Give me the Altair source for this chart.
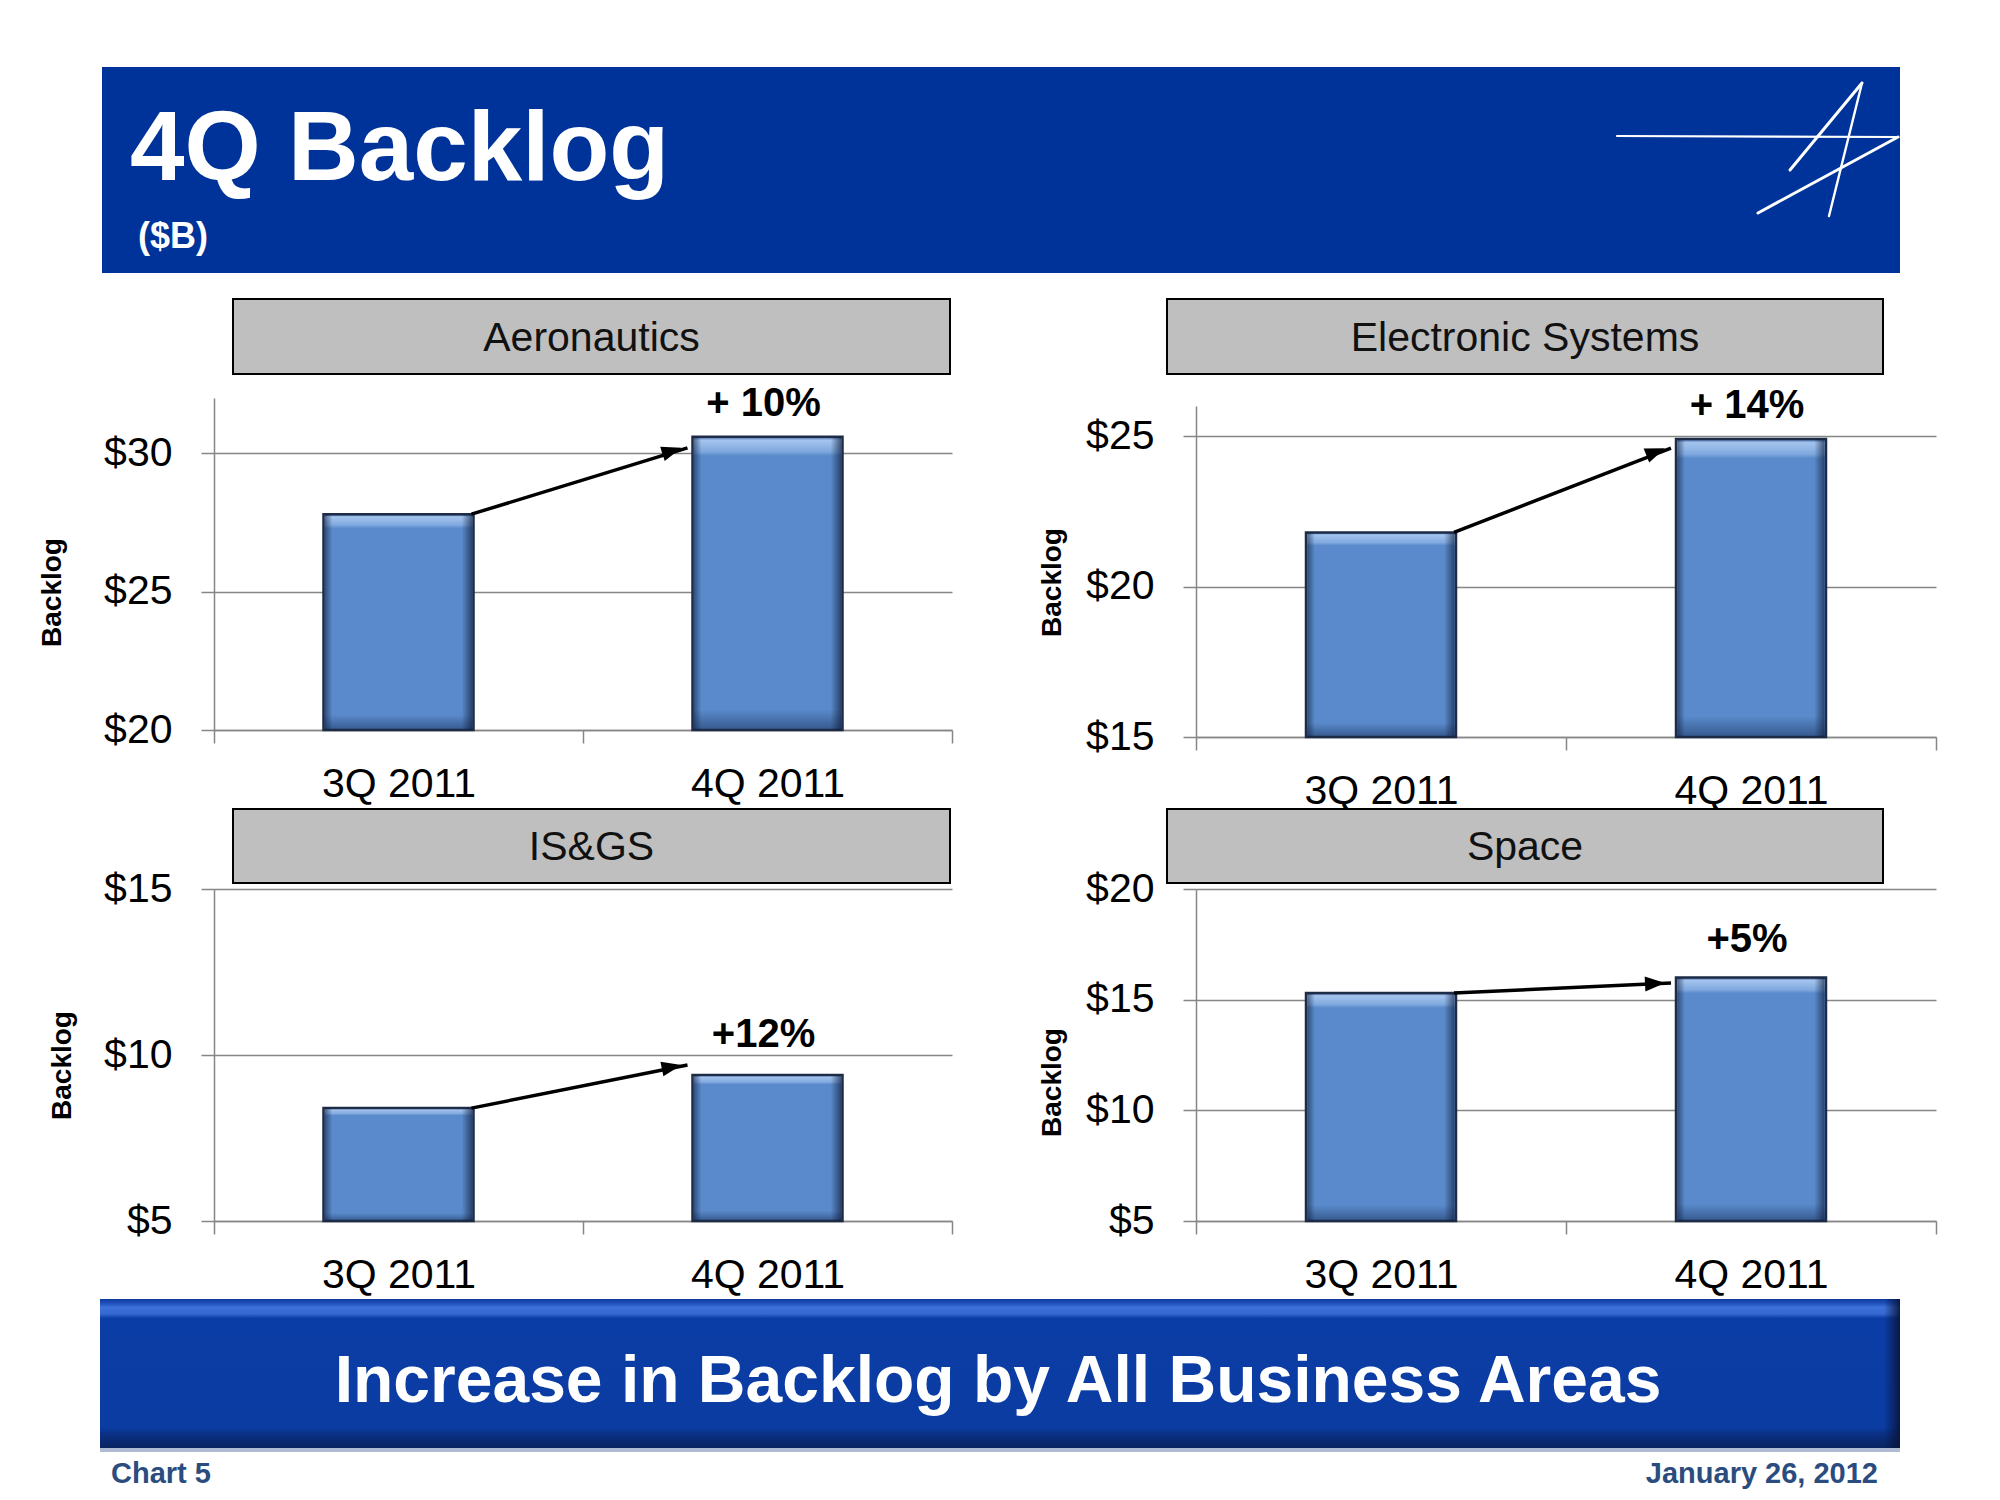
import math
import altair as alt
import pandas as pd

# ---------------- data ----------------
segments = ["Aeronautics", "Electronic Systems", "IS&GS", "Space"]
quarters = ["3Q 2011", "4Q 2011"]
backlog_3q = [27.8, 21.8, 8.4, 15.3]
backlog_4q = [30.6, 24.9, 9.4, 16.0]
change_text = ["+ 10%", "+ 14%", "+12%", "+5%"]
change_label_value = [31.8, 26.0, 10.6, 17.7]
arrow_end_value = [30.2, 24.6, 9.7, 15.75]
axis_min = [20, 15, 5, 5]
axis_max = [32, 26, 15, 20]
axis_ticks = [[20, 25, 30], [15, 20, 25], [5, 10, 15], [5, 10, 15, 20]]

title_text = "4Q Backlog"
subtitle_text = "($B)"
banner_text = "Increase in Backlog by All Business Areas"
footer_left = "Chart 5"
footer_right = "January 26, 2012"
y_title = "Backlog"

# ---------------- layout / style ----------------
W, H = 2000, 1500
FONT = "Liberation Sans"
GRID = "#868686"
BAR_W = 150
ARROW_START_OFF = 73
ARROW_END_OFF = -86

layout = [
    dict(x=(214, 952), y=(730, 398), header=(233, 950, 299, 374), title=(52, 592)),
    dict(x=(1196, 1936), y=(737, 406), header=(1167, 1883, 299, 374), title=(1052, 582)),
    dict(x=(214, 952), y=(1221, 889), header=(233, 950, 809, 883), title=(62, 1065)),
    dict(x=(1196, 1936), y=(1221, 889), header=(1167, 1883, 809, 883), title=(1052, 1082)),
]

one = alt.InlineData(values=[{"k": 0}])

bar_vgrad = alt.Gradient(
    gradient="linear", x1=0, x2=0, y1=0, y2=1,
    stops=[
        alt.GradientStop(offset=0.0, color="#3B64A0"),
        alt.GradientStop(offset=0.012, color="#A4C4EE"),
        alt.GradientStop(offset=0.05, color="#80A9DF"),
        alt.GradientStop(offset=0.065, color="#5A8ACB"),
        alt.GradientStop(offset=0.93, color="#5A8ACB"),
        alt.GradientStop(offset=1.0, color="#35598E"),
    ],
)
bar_hgrad = alt.Gradient(
    gradient="linear", x1=0, x2=1, y1=0, y2=0,
    stops=[
        alt.GradientStop(offset=0.0, color="rgba(15,30,60,0.55)"),
        alt.GradientStop(offset=0.05, color="rgba(15,30,60,0.0)"),
        alt.GradientStop(offset=0.93, color="rgba(15,30,60,0.0)"),
        alt.GradientStop(offset=1.0, color="rgba(15,30,60,0.65)"),
    ],
)


def panel(i):
    """Returns a flat list of layers; every layer uses the same explicit
    domain and range, so independent scales map identically."""
    L = layout[i]
    x0, x1 = L["x"]
    yb, yt = L["y"]
    bars = pd.DataFrame({
        "quarter": quarters,
        "value": [backlog_3q[i], backlog_4q[i]],
        "base": [axis_min[i], axis_min[i]],
    })

    def xs():
        return alt.Scale(domain=quarters, range=[x0, x1], paddingInner=0, paddingOuter=0)

    def ys():
        return alt.Scale(domain=[axis_min[i], axis_max[i]], range=[yb, yt], nice=False, zero=False)

    xax = alt.Axis(
        orient="bottom", offset=-(H - yb), tickBand="extent", tickSize=13,
        labelPadding=21, labelFontSize=41, labelFont=FONT, labelColor="#000",
        labelAngle=0, domainColor=GRID, tickColor=GRID, domainWidth=1.5,
        tickWidth=1.5, grid=False, title=None,
    )
    yax = alt.Axis(
        orient="left", offset=-x0, values=axis_ticks[i],
        labelExpr="'$' + datum.label", tickSize=13, labelPadding=29,
        labelFontSize=41, labelFont=FONT, labelColor="#000",
        domainColor=GRID, tickColor=GRID, domainWidth=1.5, tickWidth=1.5,
        grid=True, gridColor=GRID, gridWidth=1.5,
        title=y_title, titleX=L["title"][0] - x0, titleY=L["title"][1],
        titleAngle=270, titleBaseline="middle", titleAlign="center",
        titleFontSize=28, titleFont=FONT, titleFontWeight="bold", titleColor="#000",
    )

    bar = alt.Chart(bars).mark_bar(
        width=BAR_W, fill=bar_vgrad, stroke="#1E2C48", strokeWidth=2.5
    ).encode(
        x=alt.X("quarter:N", scale=xs(), axis=xax, sort=quarters),
        y=alt.Y("value:Q", scale=ys(), axis=yax), y2="base:Q")
    shade = alt.Chart(bars).mark_bar(width=BAR_W - 3, fill=bar_hgrad).encode(
        x=alt.X("quarter:N", scale=xs(), axis=None),
        y=alt.Y("value:Q", scale=ys(), axis=None), y2="base:Q")

    arrow_df = pd.DataFrame({
        "q0": [quarters[0]], "q1": [quarters[1]],
        "v0": [backlog_3q[i]], "v1": [arrow_end_value[i]],
    })
    step = (x1 - x0) / 2.0

    def py(v):
        return yb + (v - axis_min[i]) / (axis_max[i] - axis_min[i]) * (yt - yb)

    sx = x0 + 0.5 * step + ARROW_START_OFF
    ex = x0 + 1.5 * step + ARROW_END_OFF
    ang = math.degrees(math.atan2(py(arrow_end_value[i]) - py(backlog_3q[i]), ex - sx)) % 360

    rule = alt.Chart(arrow_df).mark_rule(
        color="black", strokeWidth=3.5, xOffset=ARROW_START_OFF, x2Offset=ARROW_END_OFF + 6
    ).encode(
        x=alt.X("q0:N", scale=xs(), axis=None), x2="q1:N",
        y=alt.Y("v0:Q", scale=ys(), axis=None), y2="v1:Q")
    head = alt.Chart(arrow_df).mark_point(
        shape="M0,0 L-2,-0.75 L-2,0.75 Z", size=400, filled=True, color="black",
        opacity=1, strokeWidth=0, xOffset=ARROW_END_OFF, angle=ang
    ).encode(
        x=alt.X("q1:N", scale=xs(), axis=None),
        y=alt.Y("v1:Q", scale=ys(), axis=None))

    lab_df = pd.DataFrame({"quarter": [quarters[1]], "v": [change_label_value[i]], "t": [change_text[i]]})
    lab = alt.Chart(lab_df).mark_text(
        font=FONT, fontSize=40, fontWeight="bold", color="#000", baseline="middle", dx=-4
    ).encode(
        x=alt.X("quarter:N", scale=xs(), axis=None),
        y=alt.Y("v:Q", scale=ys(), axis=None), text="t:N")

    return [bar, shade, rule, head, lab]


def rect(xa, xb, ya, yb, **kw):
    return alt.Chart(one).mark_rect(**kw).encode(
        x=alt.value(xa), x2=alt.value(xb), y=alt.value(ya), y2=alt.value(yb))


def text(t, x, y, **kw):
    return alt.Chart(one).mark_text(text=t, font=FONT, **kw).encode(
        x=alt.value(x), y=alt.value(y))


def line(xa, ya, xb, yb, w):
    return alt.Chart(one).mark_rule(color="white", strokeWidth=w, strokeCap="round").encode(
        x=alt.value(xa), x2=alt.value(xb), y=alt.value(ya), y2=alt.value(yb))


deco = []
# top banner
deco.append(rect(102, 1900, 67, 273, fill="#003399"))
deco.append(text(title_text, 130, 180, fontSize=98, fontWeight="bold", color="white",
                 align="left", baseline="alphabetic"))
deco.append(text(subtitle_text, 138, 248, fontSize=36, fontWeight="bold", color="white",
                 align="left", baseline="alphabetic"))
# logo
deco.append(line(1617, 136, 1898, 137, 2.2))
deco.append(line(1898, 137, 1758, 213, 3))
deco.append(line(1862, 83, 1790, 170, 3))
deco.append(line(1862, 83, 1829, 216, 2.4))

# panel headers
for i, seg in enumerate(segments):
    hx0, hx1, hy0, hy1 = layout[i]["header"]
    deco.append(rect(hx0, hx1, hy0, hy1, fill="#BFBFBF", stroke="#000", strokeWidth=2))
    deco.append(text(seg, (hx0 + hx1) / 2, (hy0 + hy1) / 2 + 2, fontSize=41, color="#111",
                     align="center", baseline="middle"))

# bottom banner
banner_grad = alt.Gradient(
    gradient="linear", x1=0, x2=0, y1=0, y2=1,
    stops=[
        alt.GradientStop(offset=0.0, color="#0B3A9E"),
        alt.GradientStop(offset=0.035, color="#2656C2"),
        alt.GradientStop(offset=0.055, color="#3D72DA"),
        alt.GradientStop(offset=0.10, color="#3568D0"),
        alt.GradientStop(offset=0.13, color="#0B3DA6"),
        alt.GradientStop(offset=0.86, color="#0A3CA2"),
        alt.GradientStop(offset=0.91, color="#0A2F82"),
        alt.GradientStop(offset=1.0, color="#0A2460"),
    ],
)
edge_grad = alt.Gradient(
    gradient="linear", x1=0, x2=1, y1=0, y2=0,
    stops=[
        alt.GradientStop(offset=0.0, color="rgba(8,20,60,0.0)"),
        alt.GradientStop(offset=1.0, color="rgba(8,20,60,0.9)"),
    ],
)
deco.append(rect(100, 1900, 1299, 1448, fill=banner_grad))
deco.append(rect(1884, 1900, 1299, 1448, fill=edge_grad))
deco.append(rect(100, 1900, 1448, 1452, fill="#AEBBD2"))
deco.append(text(banner_text, 998, 1402, fontSize=66, fontWeight="bold", color="white",
                 align="center", baseline="alphabetic"))
# footer
deco.append(text(footer_left, 111, 1483, fontSize=29, fontWeight="bold", color="#2B4C7E",
                 align="left", baseline="alphabetic"))
deco.append(text(footer_right, 1878, 1483, fontSize=29, fontWeight="bold", color="#2B4C7E",
                 align="right", baseline="alphabetic"))

panel_layers = []
for i in range(4):
    panel_layers.extend(panel(i))

chart = alt.layer(*deco, *panel_layers).resolve_scale(
    x="independent", y="independent"
).resolve_axis(
    x="independent", y="independent"
).properties(
    width=W, height=H, padding=0,
    autosize=alt.AutoSizeParams(type="none"),
    background="white",
).configure_view(stroke=None)

chart.save("out.html", embed_options={"renderer": "svg", "actions": False})
